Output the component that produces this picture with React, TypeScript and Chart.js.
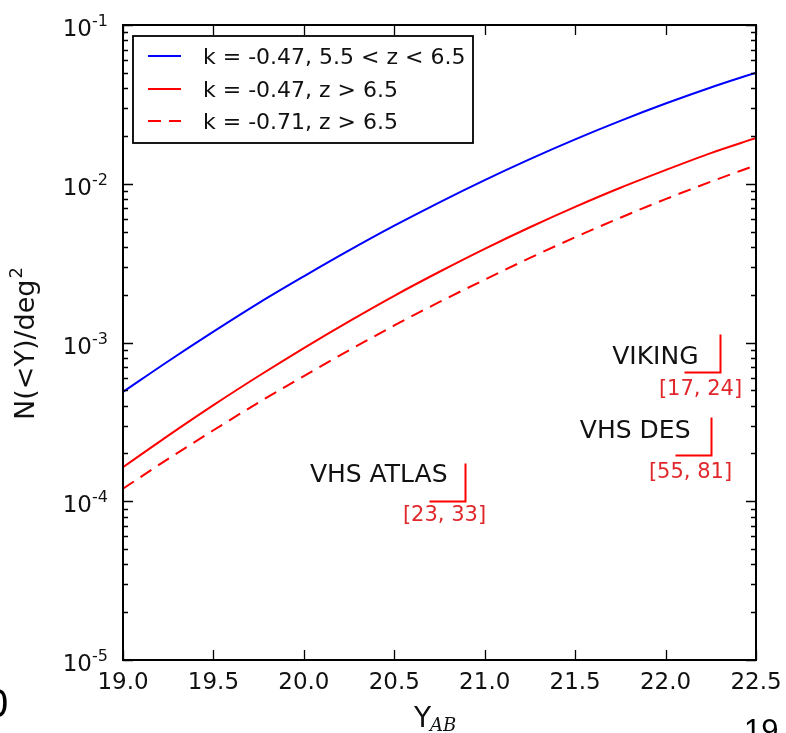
import React, { useEffect, useRef } from "react";
import { Chart, registerables } from "chart.js";

Chart.register(...registerables);

// ---------- data ----------
const MAGNITUDES = [19.0, 19.25, 19.5, 19.75, 20.0, 20.25, 20.5, 20.75, 21.0, 21.25, 21.5, 21.75, 22.0, 22.25, 22.5];
const N_K047_LOWZ = [4.88e-4, 7.62e-4, 1.17e-3, 1.77e-3, 2.61e-3, 3.80e-3, 5.44e-3, 7.64e-3, 1.055e-2, 1.43e-2, 1.905e-2, 2.49e-2, 3.20e-2, 4.04e-2, 5.01e-2];
const N_K047_HIGHZ = [1.64e-4, 2.59e-4, 4.03e-4, 6.15e-4, 9.23e-4, 1.36e-3, 1.97e-3, 2.79e-3, 3.89e-3, 5.32e-3, 7.15e-3, 9.44e-3, 1.22e-2, 1.56e-2, 1.94e-2];
const N_K071_HIGHZ = [1.20e-4, 1.85e-4, 2.80e-4, 4.19e-4, 6.15e-4, 8.93e-4, 1.28e-3, 1.80e-3, 2.49e-3, 3.41e-3, 4.60e-3, 6.11e-3, 8.00e-3, 1.03e-2, 1.31e-2];
const SERIES_LABELS = ["k = -0.47, 5.5 < z < 6.5", "k = -0.47, z > 6.5", "k = -0.71, z > 6.5"];

const X_TICKS = [19.0, 19.5, 20.0, 20.5, 21.0, 21.5, 22.0, 22.5];
const X_TICK_LABELS = ["19.0", "19.5", "20.0", "20.5", "21.0", "21.5", "22.0", "22.5"];
const Y_DECADES = [-5, -4, -3, -2, -1];

const SURVEY_NAMES = ["VHS ATLAS", "VIKING", "VHS DES"];
const SURVEY_RANGES = ["[23, 33]", "[17, 24]", "[55, 81]"];
const SURVEY_MAG = [20.89, 22.3, 22.25];
const SURVEY_N = [1.0e-4, 6.5e-4, 1.95e-4];

// ---------- layout / style (not data) ----------
const W = 786;
const H = 733;
const FONT = "'DejaVu Sans', sans-serif";
const BLUE = "#0000ff";
const RED = "#ff0000";
const ANNOT_RED = "#e0282c";
const ANNOT_OFFSETS = [
  { tdx: -18, tdy: -20, ldx: -21, ldy: 19 },
  { tdx: -22, tdy: -9, ldx: -20, ldy: 22 },
  { tdx: -21, tdy: -18, ldx: -21, ldy: 22 },
];

function fitText(ctx: CanvasRenderingContext2D, s: string, x: number, y: number, size: number, color: string, align: "left" | "right" | "center", family = FONT, style = "") {
  ctx.save();
  ctx.font = `${style} ${size}px ${family}`;
  ctx.fillStyle = color;
  ctx.textAlign = align;
  ctx.textBaseline = "alphabetic";
  ctx.fillText(s, x, y);
  ctx.restore();
}

const decorPlugin = {
  id: "decor",
  afterDatasetsDraw(chart: any) {
    const ctx: CanvasRenderingContext2D = chart.ctx;
    const ca = chart.chartArea;
    const xs = chart.scales.x;
    const ys = chart.scales.y;
    ctx.save();

    // ticks
    ctx.strokeStyle = "#000";
    ctx.lineWidth = 1.3;
    ctx.beginPath();
    X_TICKS.forEach((v) => {
      const px = Math.round(xs.getPixelForValue(v)) + 0.5;
      ctx.moveTo(px, ca.bottom);
      ctx.lineTo(px, ca.bottom - 10);
      ctx.moveTo(px, ca.top);
      ctx.lineTo(px, ca.top + 10);
    });
    Y_DECADES.forEach((e, i) => {
      const py = Math.round(ys.getPixelForValue(Math.pow(10, e))) + 0.5;
      ctx.moveTo(ca.left, py);
      ctx.lineTo(ca.left + 10, py);
      ctx.moveTo(ca.right, py);
      ctx.lineTo(ca.right - 10, py);
      if (i < Y_DECADES.length - 1) {
        for (let m = 2; m <= 9; m++) {
          const pm = Math.round(ys.getPixelForValue(m * Math.pow(10, e))) + 0.5;
          ctx.moveTo(ca.left, pm);
          ctx.lineTo(ca.left + 5, pm);
          ctx.moveTo(ca.right, pm);
          ctx.lineTo(ca.right - 5, pm);
        }
      }
    });
    ctx.stroke();

    // frame
    ctx.lineWidth = 2;
    ctx.strokeStyle = "#000";
    ctx.strokeRect(ca.left, ca.top, ca.right - ca.left, ca.bottom - ca.top);

    // x tick labels
    X_TICKS.forEach((v, i) => {
      fitText(ctx, X_TICK_LABELS[i], xs.getPixelForValue(v), ca.bottom + 29, 23, "#111", "center");
    });
    // y tick labels
    Y_DECADES.forEach((e) => {
      const py = ys.getPixelForValue(Math.pow(10, e));
      fitText(ctx, "10", ca.left - 31, py + 11, 23, "#111", "right");
      fitText(ctx, String(e), ca.left - 31, py + 1, 16, "#111", "left");
    });

    // axis titles
    ctx.save();
    ctx.translate(34, 344);
    ctx.rotate(-Math.PI / 2);
    ctx.font = `27px ${FONT}`;
    const t1 = "N(<Y)/deg";
    const w1 = ctx.measureText(t1).width;
    ctx.font = `18px ${FONT}`;
    const w2 = ctx.measureText("2").width;
    const start = -(w1 + w2) / 2;
    ctx.fillStyle = "#111";
    ctx.font = `27px ${FONT}`;
    ctx.textAlign = "left";
    ctx.fillText(t1, start, 0);
    ctx.font = `18px ${FONT}`;
    ctx.fillText("2", start + w1 + 1, -12);
    ctx.restore();

    ctx.font = `28px ${FONT}`;
    const wy = ctx.measureText("Y").width;
    fitText(ctx, "Y", 414, 727, 28, "#111", "left");
    fitText(ctx, "AB", 414 + wy - 1, 731, 18, "#111", "left", "'DejaVu Serif', 'Liberation Serif', serif", "italic");

    // survey annotations
    SURVEY_NAMES.forEach((name, i) => {
      const cx = Math.round(xs.getPixelForValue(SURVEY_MAG[i])) + 0.5;
      const cy = Math.round(ys.getPixelForValue(SURVEY_N[i])) + 0.5;
      const o = ANNOT_OFFSETS[i];
      ctx.strokeStyle = RED;
      ctx.lineWidth = 2;
      ctx.beginPath();
      ctx.moveTo(cx, cy - 38);
      ctx.lineTo(cx, cy);
      ctx.lineTo(cx - 36, cy);
      ctx.stroke();
      fitText(ctx, name, cx + o.tdx, cy + o.tdy, 25, "#111", "right");
      fitText(ctx, SURVEY_RANGES[i], cx + o.ldx, cy + o.ldy, 21, ANNOT_RED, "center");
    });

    // legend
    const lx = 133, ly = 36, lw = 340, lh = 107;
    ctx.fillStyle = "#fff";
    ctx.fillRect(lx, ly, lw, lh);
    ctx.strokeStyle = "#000";
    ctx.lineWidth = 1.8;
    ctx.strokeRect(lx, ly, lw, lh);
    const rows = [56, 89, 121];
    const colors = [BLUE, RED, RED];
    const dashes = [[], [], [13, 8]];
    SERIES_LABELS.forEach((lab, i) => {
      ctx.strokeStyle = colors[i];
      ctx.lineWidth = 2;
      ctx.setLineDash(dashes[i]);
      ctx.beginPath();
      ctx.moveTo(148, rows[i]);
      ctx.lineTo(181, rows[i]);
      ctx.stroke();
      ctx.setLineDash([]);
      fitText(ctx, lab, 203, rows[i] + 8, 22, "#111", "left");
    });

    // slide fragments
    fitText(ctx, "0", -14, 717, 40, "#000", "left", "'Liberation Sans', Arial, sans-serif");
    fitText(ctx, "19", 744, 741, 31, "#000", "left", "'Liberation Sans', Arial, sans-serif");

    ctx.restore();
  },
};

export default function App() {
  const ref = useRef<HTMLCanvasElement>(null);
  useEffect(() => {
    document.body.style.margin = "0";
    const canvas = ref.current;
    if (!canvas) return;
    const mk = (arr: number[]) => MAGNITUDES.map((m, i) => ({ x: m, y: arr[i] }));
    const chart = new Chart(canvas, {
      type: "line",
      data: {
        datasets: [
          { label: SERIES_LABELS[0], data: mk(N_K047_LOWZ), borderColor: BLUE, borderWidth: 2, pointRadius: 0, cubicInterpolationMode: "monotone", fill: false },
          { label: SERIES_LABELS[1], data: mk(N_K047_HIGHZ), borderColor: RED, borderWidth: 2, pointRadius: 0, cubicInterpolationMode: "monotone", fill: false },
          { label: SERIES_LABELS[2], data: mk(N_K071_HIGHZ), borderColor: RED, borderWidth: 2, borderDash: [13, 8], pointRadius: 0, cubicInterpolationMode: "monotone", fill: false },
        ],
      } as any,
      options: {
        responsive: false,
        animation: false,
        layout: { padding: { left: 123, top: 25, right: W - 756, bottom: H - 660 } },
        plugins: { legend: { display: false }, tooltip: { enabled: false } },
        scales: {
          x: { type: "linear", min: 19, max: 22.5, display: false },
          y: { type: "logarithmic", min: 1e-5, max: 1e-1, display: false },
        },
      } as any,
      plugins: [decorPlugin],
    });
    return () => chart.destroy();
  }, []);
  return (
    <div style={{ width: W, height: H, background: "#fff", overflow: "hidden" }}>
      <canvas ref={ref} width={W} height={H} style={{ display: "block" }} />
    </div>
  );
}
